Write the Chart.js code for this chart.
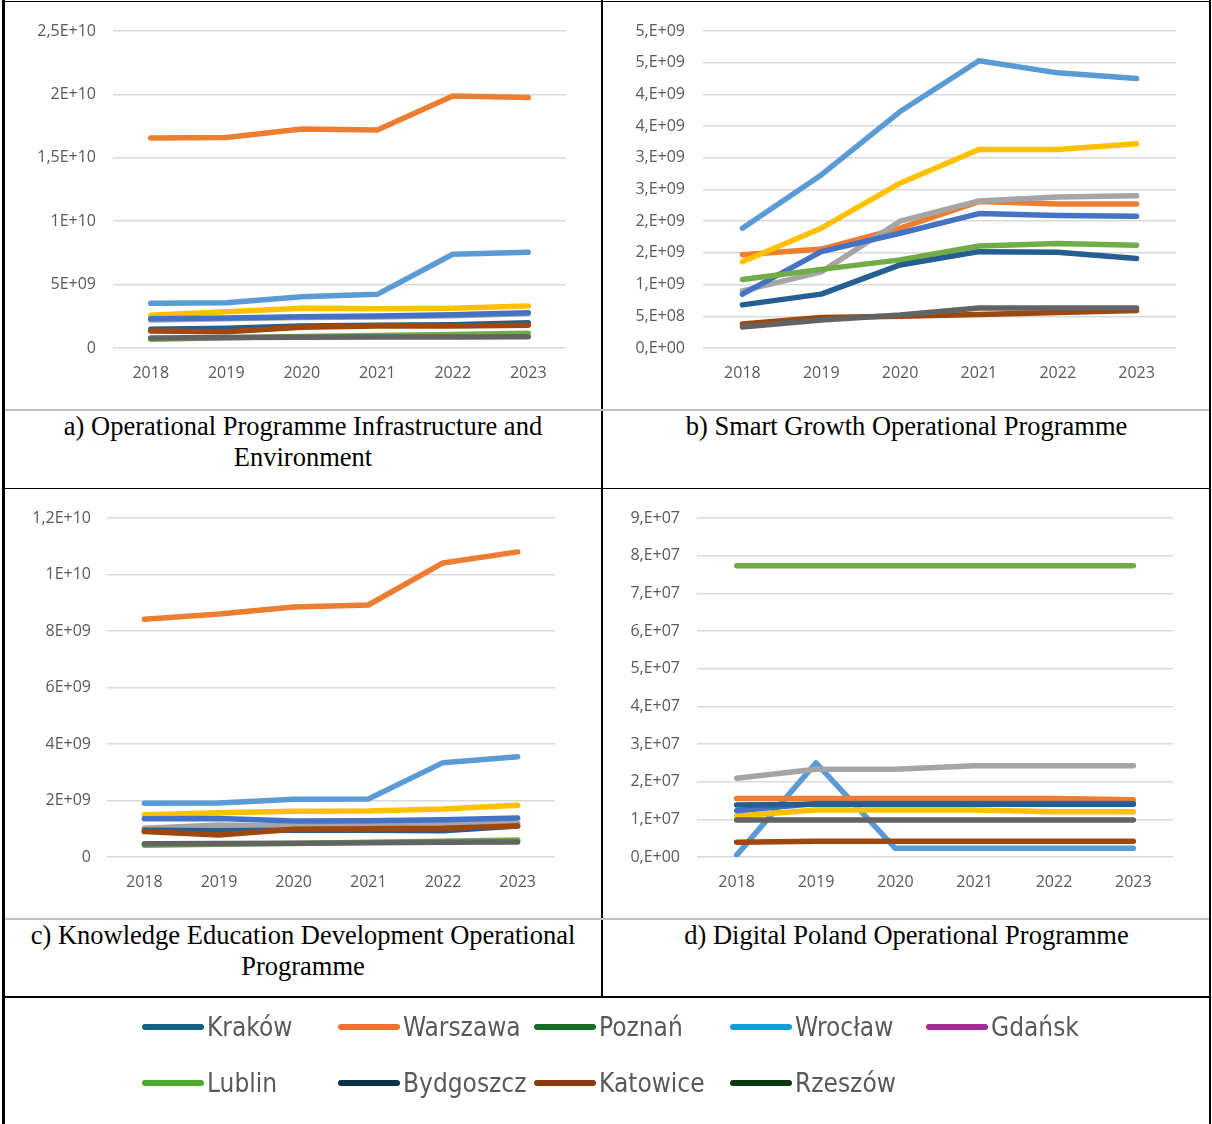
<!DOCTYPE html>
<html>
<head>
<meta charset="utf-8">
<script src="https://cdn.jsdelivr.net/npm/chart.js@4/dist/chart.umd.min.js"></script>
<style>
  body { margin: 0; background: #fff; }
  #page { position: relative; width: 1212px; height: 1124px; overflow: hidden; }
  .ln { position: absolute; background: #000; }
  .grey { background: #bfbfbf; }
  canvas { position: absolute; }
  .cap {
    position: absolute; text-align: center; color: #000;
    font-family: 'Liberation Serif', 'Times New Roman', serif;
    font-size: 26.5px; line-height: 31px;
  }
  #legend { position: absolute; left: 0; top: 998px; width: 1212px; height: 126px; }
  .item { position: absolute; height: 34px; display: flex; align-items: center; }
  .sw { width: 62px; height: 6px; border-radius: 3px; margin-right: 3px; }
  .lbl { font-family: 'DejaVu Sans Condensed', 'Liberation Sans Narrow', sans-serif;
         font-size: 26px; color: #595959; font-weight: 300; }
</style>
</head>
<body>
<div id="page">
  <canvas id="chartA" width="596" height="406" style="left:5px;top:3px"></canvas>
  <canvas id="chartB" width="607" height="406" style="left:603px;top:3px"></canvas>
  <canvas id="chartC" width="596" height="429" style="left:5px;top:489px"></canvas>
  <canvas id="chartD" width="607" height="429" style="left:603px;top:489px"></canvas>

  <div class="cap" style="left:5px;top:411px;width:596px">a) Operational Programme Infrastructure and<br>Environment</div>
  <div class="cap" style="left:603px;top:411px;width:607px">b) Smart Growth Operational Programme</div>
  <div class="cap" style="left:5px;top:920px;width:596px">c) Knowledge Education Development Operational<br>Programme</div>
  <div class="cap" style="left:603px;top:920px;width:607px">d) Digital Poland Operational Programme</div>

  <!-- ramka tabeli -->
  <div class="ln" style="left:3px;top:1px;width:1208px;height:1px"></div>
  <div class="ln" style="left:2px;top:0;width:3px;height:1124px"></div>
  <div class="ln" style="left:1209px;top:0;width:2px;height:1124px"></div>
  <div class="ln" style="left:601px;top:0;width:2px;height:997px"></div>
  <div class="ln grey" style="left:5px;top:409px;width:1204px;height:2px"></div>
  <div class="ln" style="left:5px;top:488px;width:1204px;height:1px"></div>
  <div class="ln grey" style="left:5px;top:918px;width:1204px;height:2px"></div>
  <div class="ln" style="left:5px;top:996px;width:1204px;height:2px"></div>

  <div id="legend"></div>
</div>

<script>
// Lata i miasta
const years = ['2018', '2019', '2020', '2021', '2022', '2023'];
const cities = ['Kraków', 'Warszawa', 'Poznań', 'Wrocław', 'Gdańsk', 'Lublin', 'Bydgoszcz', 'Katowice', 'Rzeszów'];

// Kolory linii na wykresach (kolejność serii jak w Excelu)
const lineColors = ['#5B9BD5', '#ED7D31', '#A5A5A5', '#FFC000', '#4472C4', '#70AD47', '#255E91', '#9E480E', '#636363'];
// Kolory w legendzie pod tabelą
const legendColors = ['#156082', '#E97132', '#196B24', '#0F9ED5', '#A02B93', '#4EA72E', '#0B3041', '#8A3A0E', '#0C3512'];

// a) Infrastruktura i Środowisko
const infraValues = [
    [3.52e9, 3.57e9, 4.05e9, 4.23e9, 7.39e9, 7.55e9],
    [1.656e10, 1.66e10, 1.727e10, 1.719e10, 1.987e10, 1.976e10],
    [2.2e9, 2.3e9, 2.4e9, 2.45e9, 2.55e9, 2.7e9],
    [2.58e9, 2.86e9, 3.13e9, 3.10e9, 3.13e9, 3.31e9],
    [2.31e9, 2.36e9, 2.47e9, 2.52e9, 2.63e9, 2.78e9],
    [0.69e9, 0.80e9, 0.90e9, 0.98e9, 1.06e9, 1.16e9],
    [1.47e9, 1.55e9, 1.73e9, 1.79e9, 1.84e9, 2.0e9],
    [1.34e9, 1.29e9, 1.63e9, 1.73e9, 1.73e9, 1.79e9],
    [0.78e9, 0.82e9, 0.85e9, 0.86e9, 0.87e9, 0.88e9]
];
const infraTicks = ['0', '5E+09', '1E+10', '1,5E+10', '2E+10', '2,5E+10'];

// b) Inteligentny Rozwój
const smartValues = [
    [1.89e9, 2.73e9, 3.73e9, 4.53e9, 4.34e9, 4.25e9],
    [1.47e9, 1.56e9, 1.89e9, 2.31e9, 2.27e9, 2.27e9],
    [0.90e9, 1.20e9, 2.0e9, 2.32e9, 2.38e9, 2.40e9],
    [1.36e9, 1.89e9, 2.60e9, 3.13e9, 3.13e9, 3.22e9],
    [0.85e9, 1.52e9, 1.81e9, 2.12e9, 2.09e9, 2.08e9],
    [1.08e9, 1.24e9, 1.39e9, 1.61e9, 1.65e9, 1.62e9],
    [0.68e9, 0.85e9, 1.31e9, 1.52e9, 1.51e9, 1.41e9],
    [0.38e9, 0.48e9, 0.50e9, 0.53e9, 0.56e9, 0.59e9],
    [0.33e9, 0.44e9, 0.52e9, 0.63e9, 0.63e9, 0.63e9]
];
const smartTicks = ['0,E+00', '5,E+08', '1,E+09', '2,E+09', '2,E+09', '3,E+09', '3,E+09', '4,E+09', '4,E+09', '5,E+09', '5,E+09'];

// c) Wiedza Edukacja Rozwój
const knowValues = [
    [1.90e9, 1.91e9, 2.04e9, 2.05e9, 3.34e9, 3.55e9],
    [8.42e9, 8.60e9, 8.85e9, 8.92e9, 10.41e9, 10.8e9],
    [1.02e9, 1.13e9, 1.10e9, 1.12e9, 1.15e9, 1.20e9],
    [1.50e9, 1.57e9, 1.62e9, 1.63e9, 1.70e9, 1.83e9],
    [1.35e9, 1.36e9, 1.27e9, 1.28e9, 1.32e9, 1.38e9],
    [0.42e9, 0.45e9, 0.48e9, 0.52e9, 0.56e9, 0.60e9],
    [0.95e9, 0.93e9, 0.95e9, 0.95e9, 0.93e9, 1.10e9],
    [0.90e9, 0.78e9, 0.98e9, 1.00e9, 1.02e9, 1.10e9],
    [0.47e9, 0.48e9, 0.49e9, 0.50e9, 0.52e9, 0.53e9]
];
const knowTicks = ['0', '2E+09', '4E+09', '6E+09', '8E+09', '1E+10', '1,2E+10'];

// d) Polska Cyfrowa
const digitalValues = [
    [0.05e7, 2.50e7, 0.23e7, 0.23e7, 0.23e7, 0.23e7],
    [1.55e7, 1.55e7, 1.55e7, 1.55e7, 1.55e7, 1.52e7],
    [2.09e7, 2.33e7, 2.33e7, 2.42e7, 2.42e7, 2.42e7],
    [1.09e7, 1.25e7, 1.25e7, 1.25e7, 1.20e7, 1.20e7],
    [1.23e7, 1.42e7, 1.42e7, 1.42e7, 1.42e7, 1.42e7],
    [7.73e7, 7.73e7, 7.73e7, 7.73e7, 7.73e7, 7.73e7],
    [1.38e7, 1.40e7, 1.40e7, 1.40e7, 1.40e7, 1.40e7],
    [0.39e7, 0.42e7, 0.42e7, 0.42e7, 0.42e7, 0.42e7],
    [0.98e7, 0.98e7, 0.98e7, 0.98e7, 0.98e7, 0.98e7]
];
const digitalTicks = ['0,E+00', '1,E+07', '2,E+07', '3,E+07', '4,E+07', '5,E+07', '6,E+07', '7,E+07', '8,E+07', '9,E+07'];

Chart.defaults.font.family = "'Open Sans', sans-serif";
Chart.defaults.font.size = 16;
Chart.defaults.color = '#595959';

function drawChart(id, values, tickLabels, yMax, yStep, box) {
    const datasets = values.map((row, i) => ({
        label: cities[i],
        data: row,
        borderColor: lineColors[i],
        backgroundColor: lineColors[i],
        borderWidth: 5.5,
        borderCapStyle: 'round',
        borderJoinStyle: 'round',
        pointRadius: 0,
        tension: 0,
        order: -i // późniejsze serie na wierzchu, jak w Excelu
    }));

    new Chart(document.getElementById(id), {
        type: 'line',
        data: { labels: years, datasets: datasets },
        options: {
            responsive: false,
            animation: false,
            devicePixelRatio: 1,
            layout: { padding: { top: box.top, right: box.right, left: 0, bottom: 0 } },
            plugins: { legend: { display: false }, tooltip: { enabled: false } },
            scales: {
                x: {
                    offset: true,
                    grid: { display: false },
                    border: { display: false },
                    ticks: { padding: 8, maxRotation: 0 },
                    afterFit: scale => { scale.height = box.xHeight; }
                },
                y: {
                    min: 0,
                    max: yMax,
                    grid: { color: '#d9d9d9', lineWidth: 1.5, drawTicks: false },
                    border: { display: false },
                    ticks: {
                        stepSize: yStep,
                        padding: box.labelPad,
                        callback: (v, i) => tickLabels[i]
                    },
                    afterFit: scale => { scale.width = box.yWidth; }
                }
            }
        }
    });
}

drawChart('chartA', infraValues, infraTicks, 2.5e10, 5e9, { top: 28, right: 35, xHeight: 61, yWidth: 108, labelPad: 17 });
drawChart('chartB', smartValues, smartTicks, 5e9, 5e8, { top: 28, right: 34, xHeight: 61, yWidth: 100, labelPad: 18 });
drawChart('chartC', knowValues, knowTicks, 1.2e10, 2e9, { top: 29, right: 46, xHeight: 61, yWidth: 102, labelPad: 16 });
drawChart('chartD', digitalValues, digitalTicks, 9e7, 1e7, { top: 29, right: 37, xHeight: 61, yWidth: 94, labelPad: 17 });

// Wspólna legenda pod tabelą
const legend = document.getElementById('legend');
cities.forEach((name, i) => {
    const row = Math.floor(i / 5);
    const col = i % 5;
    const item = document.createElement('div');
    item.className = 'item';
    item.style.left = (142 + col * 196) + 'px';
    item.style.top = (12 + row * 56) + 'px';
    item.innerHTML = '<div class="sw" style="background:' + legendColors[i] + '"></div><span class="lbl">' + name + '</span>';
    legend.appendChild(item);
});
</script>
</body>
</html>
